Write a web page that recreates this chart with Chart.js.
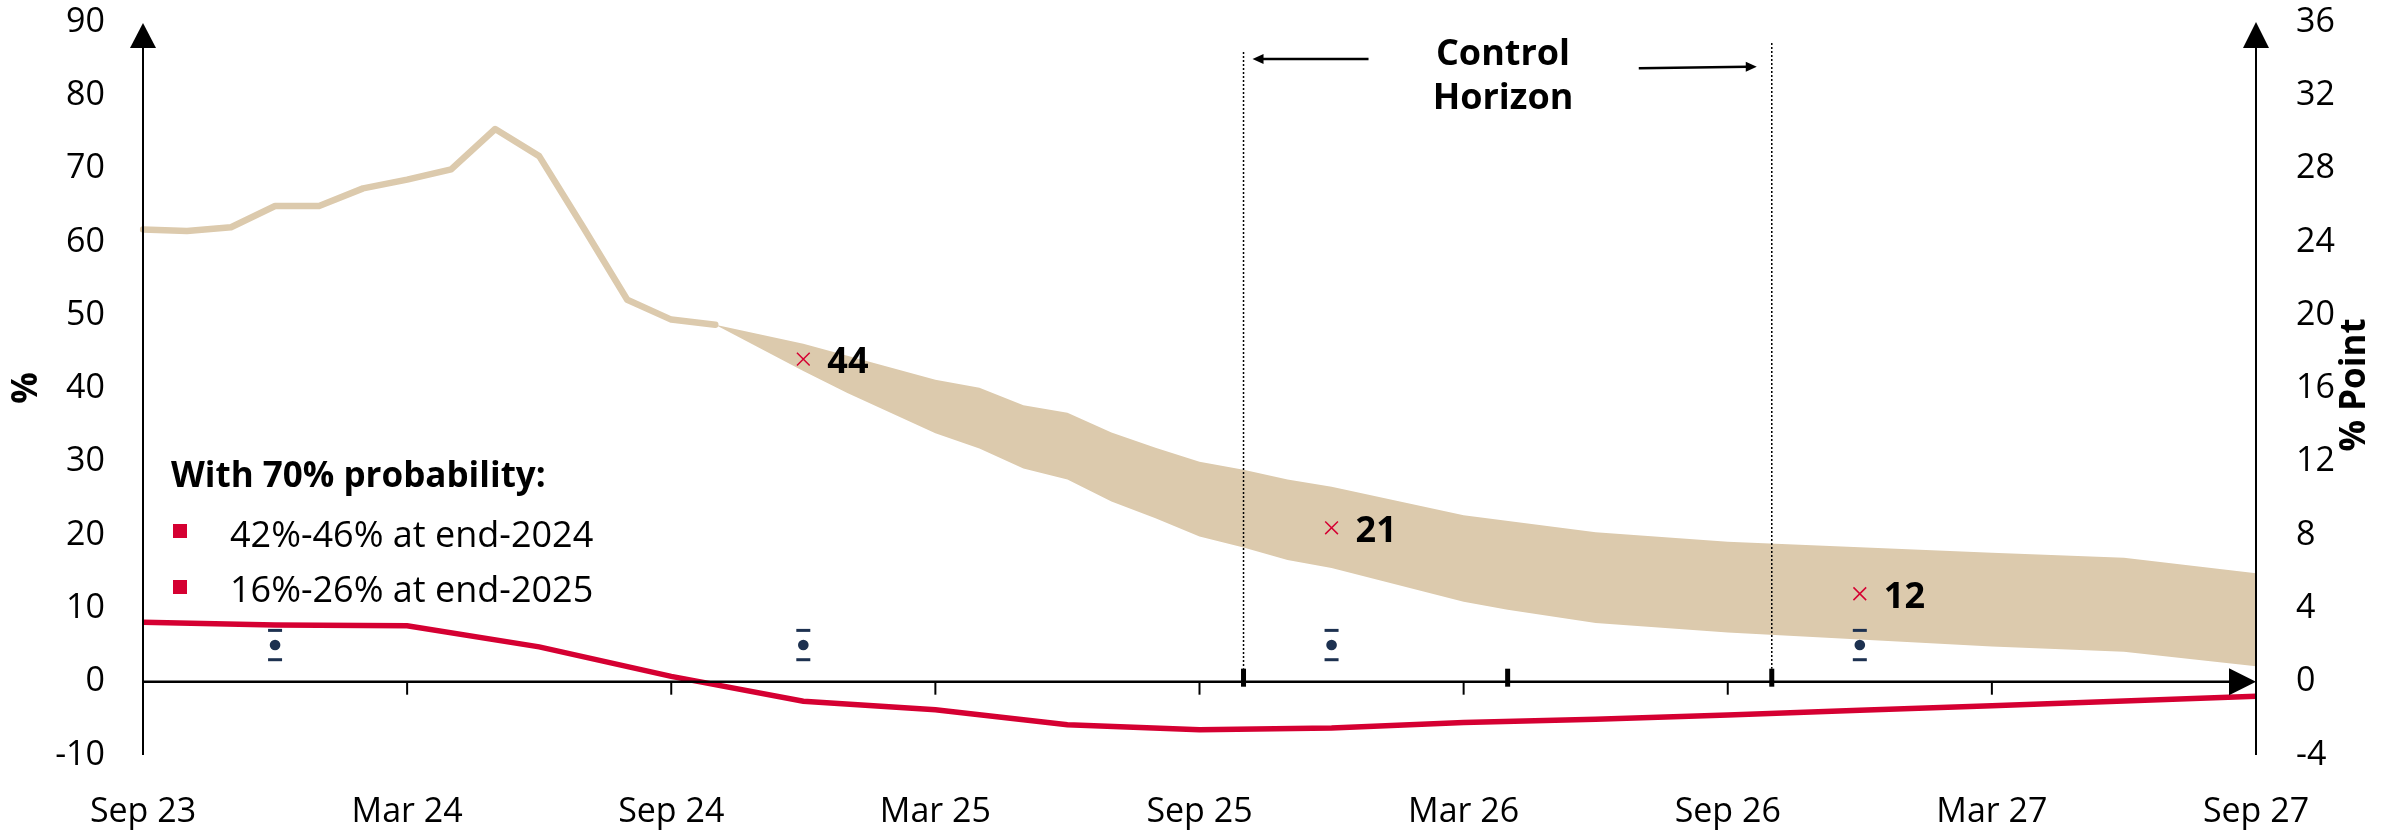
<!DOCTYPE html>
<html>
<head>
<meta charset="utf-8">
<script src="https://cdn.jsdelivr.net/npm/chart.js@4.4.1/dist/chart.umd.min.js"></script>
<style>
  html, body { margin: 0; padding: 0; background: #fff; }
  #wrap { width: 2402px; height: 833px; }
</style>
</head>
<body>
<div id="wrap"><canvas id="debtChart" width="2402" height="833"></canvas></div>
<script>
// monthly categories, Sep 23 .. Sep 27
const months = [
  'Sep 23', 'Oct 23', 'Nov 23', 'Dec 23', 'Jan 24', 'Feb 24', 'Mar 24', 'Apr 24', 'May 24', 'Jun 24', 'Jul 24', 'Aug 24',
  'Sep 24', 'Oct 24', 'Nov 24', 'Dec 24', 'Jan 25', 'Feb 25', 'Mar 25', 'Apr 25', 'May 25', 'Jun 25', 'Jul 25', 'Aug 25',
  'Sep 25', 'Oct 25', 'Nov 25', 'Dec 25', 'Jan 26', 'Feb 26', 'Mar 26', 'Apr 26', 'May 26', 'Jun 26', 'Jul 26', 'Aug 26',
  'Sep 26', 'Oct 26', 'Nov 26', 'Dec 26', 'Jan 27', 'Feb 27', 'Mar 27', 'Apr 27', 'May 27', 'Jun 27', 'Jul 27', 'Aug 27',
  'Sep 27'
];

// actual inflation (%), left axis
const actualMonths = ['Sep 23', 'Oct 23', 'Nov 23', 'Dec 23', 'Jan 24', 'Feb 24', 'Mar 24', 'Apr 24', 'May 24', 'Jun 24', 'Jul 24', 'Aug 24', 'Sep 24', 'Oct 24'];
const actualVals = [61.7, 61.5, 62.0, 64.9, 64.9, 67.3, 68.5, 69.9, 75.4, 71.7, 62.0, 52.1, 49.4, 48.7];

// forecast band (%), left axis
const upperMonths = ['Oct 24', 'Nov 24', 'Dec 24', 'Mar 25', 'Apr 25', 'May 25', 'Jun 25', 'Jul 25', 'Aug 25', 'Sep 25', 'Oct 25', 'Nov 25', 'Dec 25', 'Mar 26', 'Jun 26', 'Sep 26', 'Mar 27', 'Jun 27', 'Sep 27'];
const upperVals = [48.7, 47.4, 46.1, 41.2, 40.1, 37.7, 36.7, 34.0, 31.9, 30.0, 28.9, 27.6, 26.6, 22.7, 20.4, 19.1, 17.6, 16.9, 14.8];
const lowerMonths = ['Oct 24', 'Dec 24', 'Jan 25', 'Mar 25', 'Apr 25', 'May 25', 'Jun 25', 'Jul 25', 'Aug 25', 'Sep 25', 'Oct 25', 'Nov 25', 'Dec 25', 'Mar 26', 'Apr 26', 'Jun 26', 'Sep 26', 'Mar 27', 'Jun 27', 'Sep 27'];
const lowerVals = [48.7, 42.4, 39.4, 33.9, 31.8, 29.1, 27.6, 24.6, 22.3, 19.8, 18.3, 16.6, 15.5, 10.9, 9.8, 8.0, 6.7, 4.8, 4.1, 2.1];

// central path at year ends
const midMonths = ['Dec 24', 'Dec 25', 'Dec 26'];
const midVals = [44, 21, 12];

// target points
const targetMonths = ['Dec 23', 'Dec 24', 'Dec 25', 'Dec 26'];
const targetMid = [5, 5, 5, 5];
const targetLow = [3, 3, 3, 3];
const targetHigh = [7, 7, 7, 7];

// % point series, right axis
const gapMonths = ['Sep 23', 'Dec 23', 'Mar 24', 'Jun 24', 'Sep 24', 'Dec 24', 'Mar 25', 'Jun 25', 'Sep 25', 'Dec 25', 'Mar 26', 'Jun 26', 'Sep 26', 'Dec 26', 'Mar 27', 'Jun 27', 'Sep 27'];
const gapVals = [3.24, 3.1, 3.05, 1.9, 0.29, -1.07, -1.53, -2.35, -2.62, -2.53, -2.22, -2.05, -1.82, -1.56, -1.31, -1.05, -0.79];

// control horizon bounds and meeting ticks
const horizonMonths = ['Oct 25', 'Oct 26'];
const boldTickMonths = ['Oct 25', 'Apr 26', 'Oct 26'];

const leftTicks = { min: -10, max: 90, step: 10 };
const rightTicks = { min: -4, max: 36, step: 4 };

const legendTitle = 'With 70% probability:';
const legendItems = ['42%-46% at end-2024', '16%-26% at end-2025'];

function toSeries(ms, vs) {
  return months.map(function (m) {
    const i = ms.indexOf(m);
    return i < 0 ? null : vs[i];
  });
}

const TAN = '#dccaad';
const RED = '#d50032';
const NAVY = '#1d3150';
const FONT = "'Open Sans', sans-serif";

const overlay = {
  id: 'overlay',
  afterDatasetsDraw(chart) {
    const ctx = chart.ctx;
    const a = chart.chartArea;
    const x = chart.scales.x, y = chart.scales.y, y1 = chart.scales.y1;
    const y0 = y.getPixelForValue(0);
    ctx.save();
    ctx.strokeStyle = '#000';
    ctx.fillStyle = '#000';

    // left axis with arrow
    const lTop = y.getPixelForValue(leftTicks.max) + 1;
    ctx.lineWidth = 2;
    ctx.beginPath();
    ctx.moveTo(a.left, y.getPixelForValue(leftTicks.min));
    ctx.lineTo(a.left, lTop + 20);
    ctx.stroke();
    ctx.beginPath();
    ctx.moveTo(a.left, lTop);
    ctx.lineTo(a.left - 13, lTop + 25);
    ctx.lineTo(a.left + 13, lTop + 25);
    ctx.closePath();
    ctx.fill();

    // right axis with arrow
    const rTop = y1.getPixelForValue(rightTicks.max);
    ctx.beginPath();
    ctx.moveTo(a.right, y1.getPixelForValue(rightTicks.min));
    ctx.lineTo(a.right, rTop + 20);
    ctx.stroke();
    ctx.beginPath();
    ctx.moveTo(a.right, rTop);
    ctx.lineTo(a.right - 13, rTop + 26);
    ctx.lineTo(a.right + 13, rTop + 26);
    ctx.closePath();
    ctx.fill();

    // zero line with arrow
    ctx.lineWidth = 2.5;
    ctx.beginPath();
    ctx.moveTo(a.left, y0);
    ctx.lineTo(a.right - 20, y0);
    ctx.stroke();
    ctx.beginPath();
    ctx.moveTo(a.right, y0);
    ctx.lineTo(a.right - 27, y0 - 13.5);
    ctx.lineTo(a.right - 27, y0 + 13.5);
    ctx.closePath();
    ctx.fill();

    // half-year ticks under the zero line
    ctx.lineWidth = 2;
    for (let i = 0; i < months.length - 1; i += 6) {
      const px = x.getPixelForValue(i);
      ctx.beginPath();
      ctx.moveTo(px, y0);
      ctx.lineTo(px, y0 + 13);
      ctx.stroke();
    }
    // bold ticks
    boldTickMonths.forEach(function (m) {
      const px = x.getPixelForValue(months.indexOf(m));
      ctx.fillRect(px - 2.5, y0 - 13, 5, 18);
    });

    // dotted horizon lines
    const hx0 = x.getPixelForValue(months.indexOf(horizonMonths[0]));
    const hx1 = x.getPixelForValue(months.indexOf(horizonMonths[1]));
    ctx.lineWidth = 1.5;
    ctx.setLineDash([2, 2]);
    ctx.beginPath();
    ctx.moveTo(hx0, 52);
    ctx.lineTo(hx0, y0 - 13);
    ctx.moveTo(hx1, 43);
    ctx.lineTo(hx1, y0 - 13);
    ctx.stroke();
    ctx.setLineDash([]);

    // horizon arrows
    ctx.lineWidth = 2.5;
    ctx.beginPath();
    ctx.moveTo(hx0 + 125, 59);
    ctx.lineTo(hx0 + 18, 59);
    ctx.moveTo(hx1 - 133, 68.3);
    ctx.lineTo(hx1 - 24, 66.8);
    ctx.stroke();
    ctx.beginPath();
    ctx.moveTo(hx0 + 9, 59);
    ctx.lineTo(hx0 + 20, 54);
    ctx.lineTo(hx0 + 20, 64);
    ctx.closePath();
    ctx.moveTo(hx1 - 15, 66.7);
    ctx.lineTo(hx1 - 26, 61.8);
    ctx.lineTo(hx1 - 26, 71.8);
    ctx.closePath();
    ctx.fill();

    ctx.font = 'bold 36px ' + FONT;
    ctx.textAlign = 'center';
    ctx.textBaseline = 'alphabetic';
    ctx.fillText('Control', 1503, 65);
    ctx.fillText('Horizon', 1503, 109);

    // labels for the central path
    ctx.textAlign = 'left';
    ctx.textBaseline = 'middle';
    midMonths.forEach(function (m, i) {
      const px = x.getPixelForValue(months.indexOf(m));
      const py = y.getPixelForValue(midVals[i]);
      ctx.fillText(String(midVals[i]), px + 24, py + 4);
    });

    // legend block
    ctx.font = 'bold 35px ' + FONT;
    ctx.fillText(legendTitle, 171, 477);
    ctx.font = '36px ' + FONT;
    legendItems.forEach(function (t, i) {
      ctx.fillStyle = RED;
      ctx.fillRect(173, 524 + i * 56, 14, 14);
      ctx.fillStyle = '#000';
      ctx.fillText(t, 230, 537 + i * 55);
    });

    // axis titles
    ctx.font = 'bold 35px ' + FONT;
    ctx.textAlign = 'center';
    ctx.save();
    ctx.translate(27, 388);
    ctx.rotate(-Math.PI / 2);
    ctx.fillText('%', 0, 0);
    ctx.restore();
    ctx.save();
    ctx.translate(2355, 385);
    ctx.rotate(-Math.PI / 2);
    ctx.fillText('% Point', 0, 0);
    ctx.restore();

    ctx.restore();
  }
};

const tickFont = { family: FONT, size: 34 };

function fixWidth(w) {
  return function (s) {
    s.width = w;
    s.paddingTop = 0;
    s.paddingBottom = 0;
  };
}

new Chart(document.getElementById('debtChart'), {
  type: 'line',
  data: {
    labels: months,
    datasets: [
      {
        label: 'Central path',
        data: toSeries(midMonths, midVals),
        showLine: false,
        pointStyle: 'crossRot',
        pointRadius: 9,
        pointBorderWidth: 1.5,
        pointBorderColor: RED,
        yAxisID: 'y',
        order: 0
      },
      {
        label: 'Target',
        data: toSeries(targetMonths, targetMid),
        showLine: false,
        pointStyle: 'circle',
        pointRadius: 5.3,
        pointBorderWidth: 0,
        pointBackgroundColor: NAVY,
        yAxisID: 'y',
        order: 0
      },
      {
        label: 'Target low',
        data: toSeries(targetMonths, targetLow),
        showLine: false,
        pointStyle: 'line',
        pointRadius: 7,
        pointBorderWidth: 3,
        pointBorderColor: NAVY,
        yAxisID: 'y',
        order: 0
      },
      {
        label: 'Target high',
        data: toSeries(targetMonths, targetHigh),
        showLine: false,
        pointStyle: 'line',
        pointRadius: 7,
        pointBorderWidth: 3,
        pointBorderColor: NAVY,
        yAxisID: 'y',
        order: 0
      },
      {
        label: '% Point',
        data: toSeries(gapMonths, gapVals),
        borderColor: RED,
        borderWidth: 5.5,
        pointRadius: 0,
        spanGaps: true,
        tension: 0,
        yAxisID: 'y1',
        order: 1
      },
      {
        label: 'Actual',
        data: toSeries(actualMonths, actualVals),
        borderColor: TAN,
        borderWidth: 6.5,
        borderJoinStyle: 'round',
        borderCapStyle: 'round',
        pointRadius: 0,
        yAxisID: 'y',
        order: 2
      },
      {
        label: 'Upper',
        data: toSeries(upperMonths, upperVals),
        borderWidth: 0,
        borderColor: TAN,
        pointRadius: 0,
        spanGaps: true,
        fill: false,
        yAxisID: 'y',
        order: 3
      },
      {
        label: 'Lower',
        data: toSeries(lowerMonths, lowerVals),
        borderWidth: 0,
        borderColor: TAN,
        backgroundColor: TAN,
        pointRadius: 0,
        spanGaps: true,
        fill: '-1',
        yAxisID: 'y',
        order: 3
      }
    ]
  },
  options: {
    responsive: false,
    animation: false,
    devicePixelRatio: 1,
    layout: { padding: { top: 22, left: 0, right: 0, bottom: 0 } },
    plugins: {
      legend: { display: false },
      tooltip: { enabled: false }
    },
    scales: {
      x: {
        grid: { display: false, drawTicks: false },
        border: { display: false },
        ticks: {
          autoSkip: false,
          maxRotation: 0,
          padding: 37,
          color: '#000',
          font: tickFont,
          callback: function (val, i) { return i % 6 === 0 ? months[i] : ''; }
        },
        afterFit: function (s) { s.height = 78; s.paddingLeft = 0; s.paddingRight = 0; }
      },
      y: {
        position: 'left',
        min: leftTicks.min,
        max: leftTicks.max,
        grid: { display: false, drawTicks: false },
        border: { display: false },
        ticks: { stepSize: leftTicks.step, padding: 38, color: '#000', font: tickFont },
        afterFit: fixWidth(143)
      },
      y1: {
        position: 'right',
        min: rightTicks.min,
        max: rightTicks.max,
        grid: { display: false, drawTicks: false },
        border: { display: false },
        ticks: { stepSize: rightTicks.step, padding: 40, color: '#000', font: tickFont },
        afterFit: fixWidth(146)
      }
    }
  },
  plugins: [overlay]
});
</script>
</body>
</html>
